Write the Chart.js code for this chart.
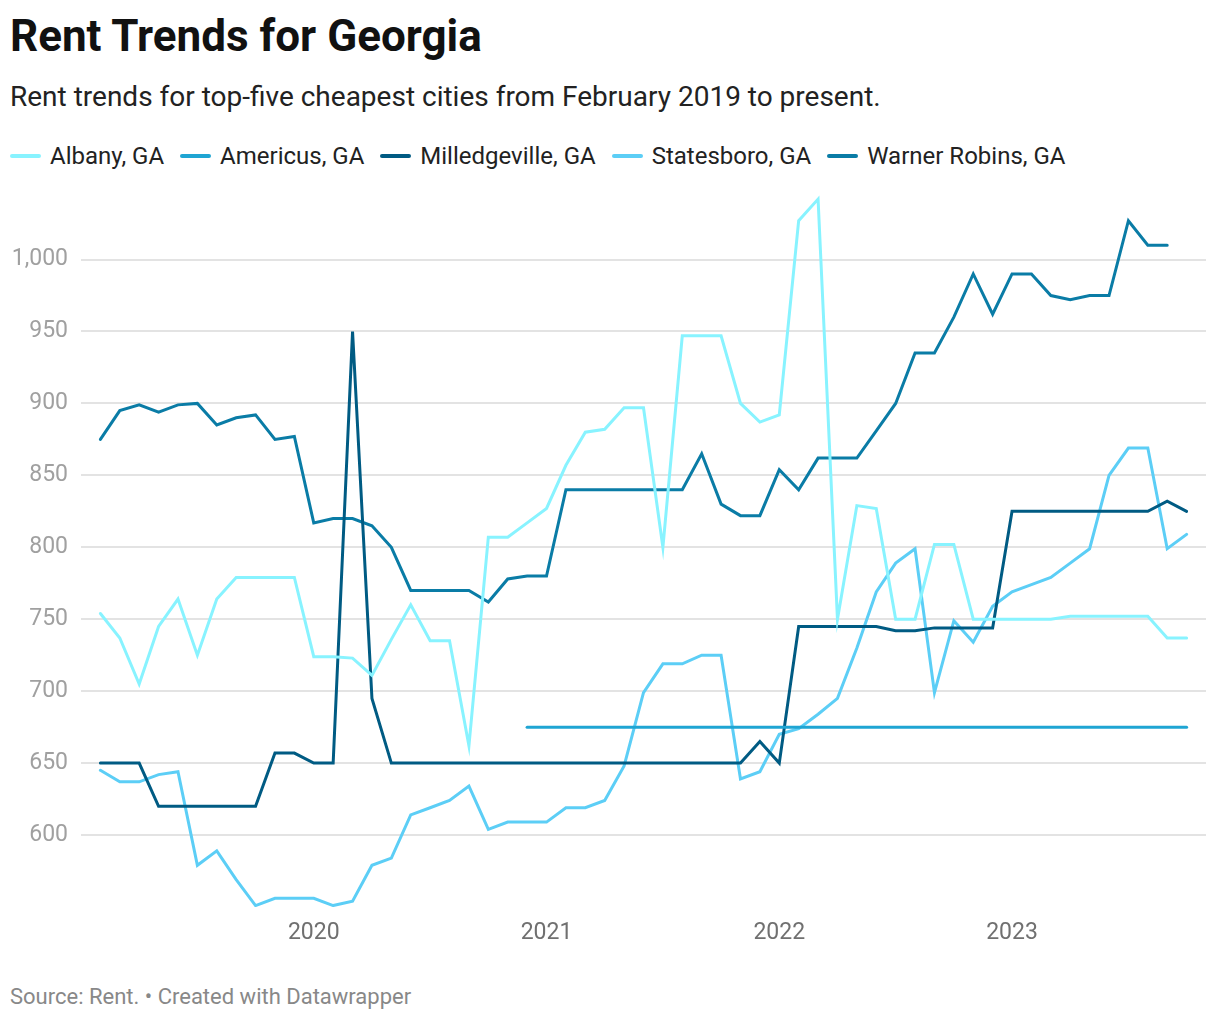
<!DOCTYPE html>
<html>
<head>
<meta charset="utf-8">
<script src="https://cdn.jsdelivr.net/npm/chart.js@4.4.0/dist/chart.umd.min.js"></script>
<style>
    body { margin: 0; background: #fff; font-family: Roboto, sans-serif; width: 1220px; height: 1020px; position: relative; overflow: hidden; }
    #title { position: absolute; left: 10px; top: 10px; font-size: 44px; font-weight: 700; color: #111; line-height: 52px; }
    #subtitle { position: absolute; left: 10px; top: 80px; font-size: 28px; color: #222; line-height: 34px; }
    #legend { position: absolute; left: 10px; top: 141px; display: flex; font-size: 24px; color: #222; line-height: 30px; }
    .item { display: flex; align-items: center; margin-right: 16px; }
    .mark { width: 31px; height: 4px; border-radius: 2px; margin-right: 9px; }
    #wrap { position: absolute; left: 0; top: 168px; width: 1220px; height: 783px; }
    #footer { position: absolute; left: 10px; top: 983px; font-size: 22px; color: #888; line-height: 28px; }
</style>
</head>
<body>
<div id="title">Rent Trends for Georgia</div>
<div id="subtitle">Rent trends for top-five cheapest cities from February 2019 to present.</div>
<div id="legend"></div>
<div id="wrap"><canvas id="rent"></canvas></div>
<div id="footer">Source: Rent. • Created with Datawrapper</div>

<script>
// months Feb 2019 .. Oct 2023
const months = [
    '2019-02', '2019-03', '2019-04', '2019-05', '2019-06', '2019-07', '2019-08', '2019-09', '2019-10', '2019-11', '2019-12',
    '2020-01', '2020-02', '2020-03', '2020-04', '2020-05', '2020-06', '2020-07', '2020-08', '2020-09', '2020-10', '2020-11', '2020-12',
    '2021-01', '2021-02', '2021-03', '2021-04', '2021-05', '2021-06', '2021-07', '2021-08', '2021-09', '2021-10', '2021-11', '2021-12',
    '2022-01', '2022-02', '2022-03', '2022-04', '2022-05', '2022-06', '2022-07', '2022-08', '2022-09', '2022-10', '2022-11', '2022-12',
    '2023-01', '2023-02', '2023-03', '2023-04', '2023-05', '2023-06', '2023-07', '2023-08', '2023-09', '2023-10'
];

const cities = ['Albany, GA', 'Americus, GA', 'Milledgeville, GA', 'Statesboro, GA', 'Warner Robins, GA'];
const colors = ['#88f3ff', '#1fa5d3', '#005b83', '#5ccef6', '#0a7ca6'];

const albany = [754, 737, 705, 745, 764, 725, 764, 779, 779, 779, 779,
    724, 724, 723, 711, 736, 760, 735, 735, 662, 807, 807, 817,
    827, 857, 880, 882, 897, 897, 800, 947, 947, 947, 900, 887,
    892, 1027, 1042, 750, 829, 827, 750, 750, 802, 802, 750, 750,
    750, 750, 750, 752, 752, 752, 752, 752, 737, 737];

const americus = [null, null, null, null, null, null, null, null, null, null, null,
    null, null, null, null, null, null, null, null, null, null, null, 675,
    675, 675, 675, 675, 675, 675, 675, 675, 675, 675, 675, 675,
    675, 675, 675, 675, 675, 675, 675, 675, 675, 675, 675, 675,
    675, 675, 675, 675, 675, 675, 675, 675, 675, 675];

const milledgeville = [650, 650, 650, 620, 620, 620, 620, 620, 620, 657, 657,
    650, 650, 950, 695, 650, 650, 650, 650, 650, 650, 650, 650,
    650, 650, 650, 650, 650, 650, 650, 650, 650, 650, 650, 665,
    650, 745, 745, 745, 745, 745, 742, 742, 744, 744, 744, 744,
    825, 825, 825, 825, 825, 825, 825, 825, 832, 825];

const statesboro = [645, 637, 637, 642, 644, 579, 589, 569, 551, 556, 556,
    556, 551, 554, 579, 584, 614, 619, 624, 634, 604, 609, 609,
    609, 619, 619, 624, 648, 699, 719, 719, 725, 725, 639, 644,
    670, 674, 684, 695, 730, 769, 789, 799, 699, 749, 734, 759,
    769, 774, 779, 789, 799, 850, 869, 869, 799, 809];

const warnerRobins = [875, 895, 899, 894, 899, 900, 885, 890, 892, 875, 877,
    817, 820, 820, 815, 800, 770, 770, 770, 770, 762, 778, 780,
    780, 840, 840, 840, 840, 840, 840, 840, 865, 830, 822, 822,
    854, 840, 862, 862, 862, 881, 900, 935, 935, 960, 990, 962,
    990, 990, 975, 972, 975, 975, 1027, 1010, 1010];

const yTicks = [600, 650, 700, 750, 800, 850, 900, 950, 1000];

const series = [albany, americus, milledgeville, statesboro, warnerRobins];

// legend
const legend = document.getElementById('legend');
cities.forEach((name, i) => {
    const item = document.createElement('div');
    item.className = 'item';
    item.innerHTML = '<span class="mark" style="background:' + colors[i] + '"></span>' + name;
    legend.appendChild(item);
});

const datasets = series.map((vals, i) => ({
    label: cities[i],
    data: vals.map((v, j) => ({ x: j, y: v })),
    borderColor: colors[i],
    backgroundColor: colors[i],
    borderWidth: 3,
    pointRadius: 0,
    tension: 0,
    borderCapStyle: 'round',
    fill: false,
    spanGaps: false
}));

var ctx = document.getElementById('rent');
var myChart = new Chart(ctx, {
    type: 'line',
    data: { datasets: datasets },
    options: {
        responsive: true,
        maintainAspectRatio: false,
        animation: false,
        layout: { padding: { top: 10, right: 14, bottom: 4, left: 0 } },
        plugins: {
            legend: { display: false },
            tooltip: { enabled: false }
        },
        scales: {
            x: {
                type: 'linear',
                min: -1,
                max: months.length,
                grid: { display: false },
                border: { display: false },
                afterBuildTicks: (scale) => {
                    scale.ticks = months
                        .map((m, i) => m.endsWith('-01') ? { value: i } : null)
                        .filter(t => t);
                },
                afterFit: (scale) => { scale.height = 40; },
                ticks: {
                    color: '#707070',
                    font: { family: 'Roboto', size: 23 },
                    padding: 4,
                    maxRotation: 0,
                    autoSkip: false,
                    callback: (v) => months[v] ? months[v].slice(0, 4) : ''
                }
            },
            y: {
                min: 550,
                max: 1045,
                grid: { color: '#e3e3e3', lineWidth: 2, drawTicks: false },
                border: { display: false },
                afterBuildTicks: (scale) => {
                    scale.ticks = yTicks.map(v => ({ value: v }));
                },
                afterFit: (scale) => { scale.width = 81; },
                ticks: {
                    color: '#a0a0a0',
                    font: { family: 'Roboto', size: 23 },
                    padding: 13,
                    callback: (v) => v.toLocaleString('en-US')
                }
            }
        }
    }
});
</script>
</body>
</html>
